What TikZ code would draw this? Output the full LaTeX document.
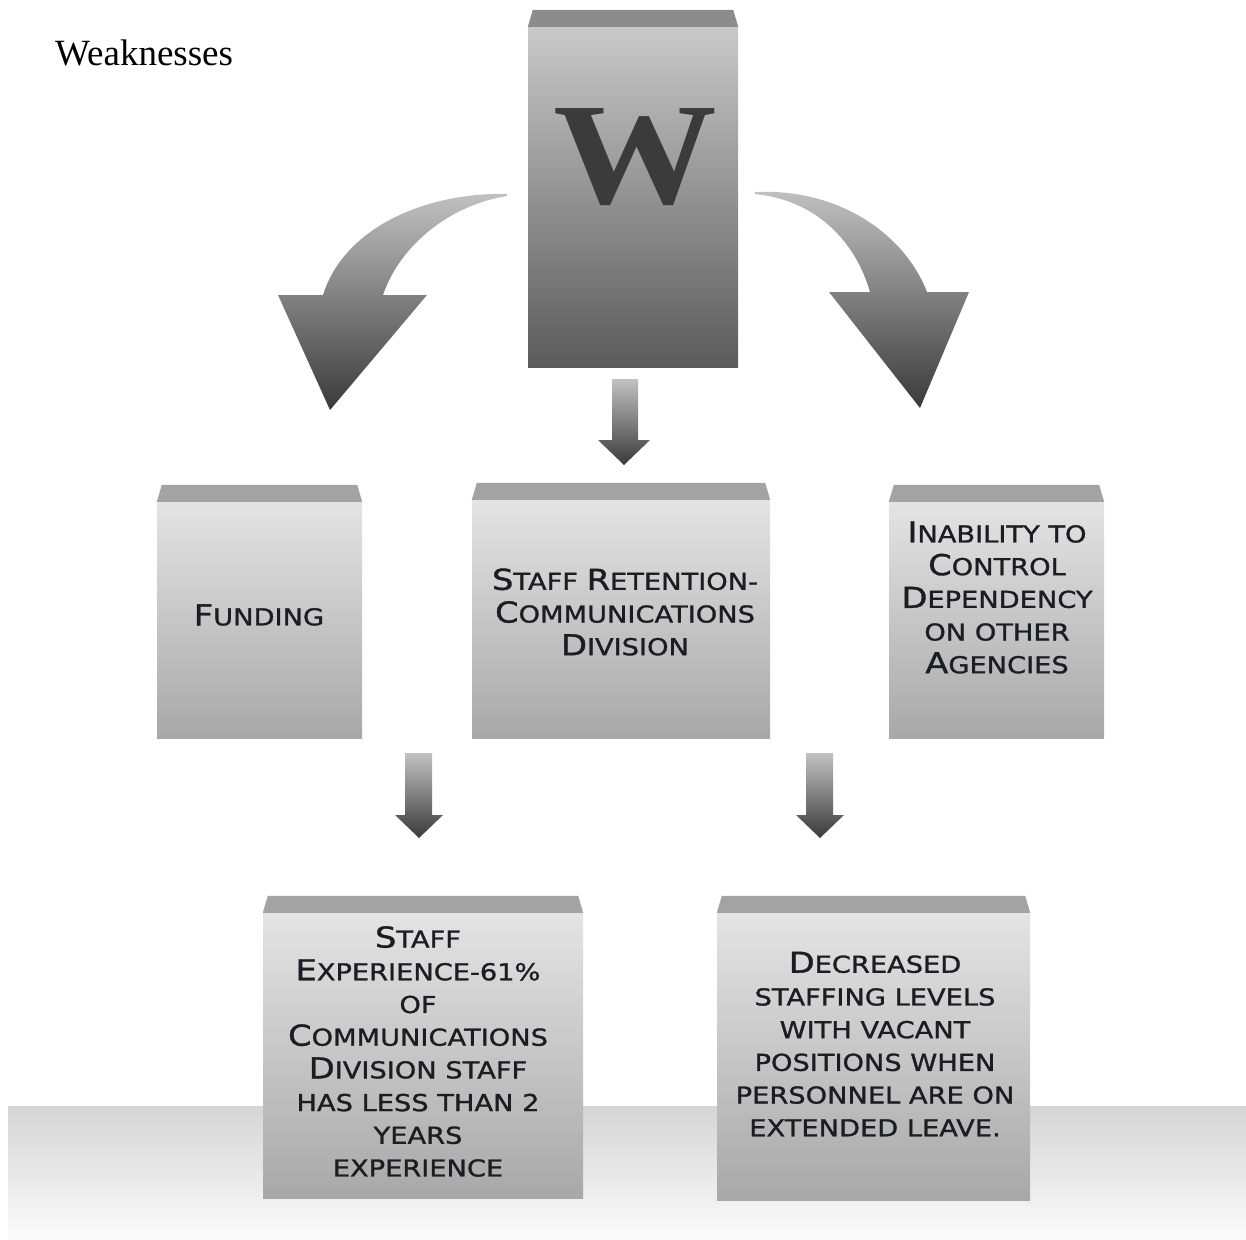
\documentclass[tikz,border=0pt]{standalone}
\usepackage{fontspec}
\setmainfont{Liberation Serif}
\newfontfamily\capsfont{DejaVu Sans}[FakeStretch=1.17,FakeBold=1.2]
\newfontfamily\wfont{Liberation Serif Bold}[FakeStretch=1.13]
\newcommand\Lc[1]{{\fontsize{28.8pt}{32.7pt}\selectfont #1}}
\definecolor{faceTop}{HTML}{E4E4E4}
\definecolor{faceBot}{HTML}{A8A8A8}
\definecolor{wTop}{HTML}{C9C9C9}
\definecolor{wBot}{HTML}{5B5B5B}
\definecolor{bandCol}{HTML}{A3A3A3}
\definecolor{wBand}{HTML}{8C8C8C}
\definecolor{arrTop}{HTML}{C2C2C2}
\definecolor{arrBot}{HTML}{3A3A3A}
\definecolor{floorTop}{HTML}{D5D5D5}
\definecolor{floorBot}{HTML}{FBFBFB}
\definecolor{txtCol}{HTML}{1C1C24}
\definecolor{wLetter}{HTML}{3B3B3B}
\tikzset{
  facebox/.style={draw=none, inner sep=0pt, top color=faceTop, bottom color=faceBot},
  wboxstyle/.style={draw=none, inner sep=0pt, top color=wTop, bottom color=wBot},
  boxtext/.style={align=center, inner sep=0pt, text=txtCol,
     font=\capsfont\fontsize{23.3pt}{32.7pt}\selectfont},
  blockarrow/.style={top color=arrTop, bottom color=arrBot, draw=none},
}
\newcommand\topband[2]{%
  \fill[#2] (#1.north west) -- ([xshift=5pt,yshift=17pt]#1.north west)
    -- ([xshift=-5pt,yshift=17pt]#1.north east) -- (#1.north east) -- cycle;}
\begin{document}
\begin{tikzpicture}[x=1pt,y=-1pt]
\useasboundingbox (0,0) rectangle (1246,1239);
% floor
\shade[top color=floorTop, bottom color=floorBot] (8,1106) rectangle (1246,1239);
% title
\node[anchor=base west, inner sep=0pt, font=\fontsize{37pt}{40pt}\selectfont] (title) at (55,65) {Weaknesses};
% W box
\node[wboxstyle, minimum width=210pt, minimum height=340pt] (wbox) at (633,197) {};
\topband{wbox}{wBand}
\node[anchor=base, inner sep=0pt, text=wLetter, font=\wfont\fontsize{145pt}{150pt}\selectfont] (wletter) at (635,203) {W};
% boxes
\node[facebox, minimum width=205pt, minimum height=236pt] (fund) at (259.5,620) {};
\topband{fund}{bandCol}
\node[facebox, minimum width=298pt, minimum height=238pt] (staff) at (621,619) {};
\topband{staff}{bandCol}
\node[facebox, minimum width=215pt, minimum height=236pt] (inab) at (996.5,620) {};
\topband{inab}{bandCol}
\node[facebox, minimum width=320pt, minimum height=285pt] (exp) at (423,1055.5) {};
\topband{exp}{bandCol}
\node[facebox, minimum width=313pt, minimum height=287pt] (decr) at (873.5,1056.5) {};
\topband{decr}{bandCol}
% texts
\node[boxtext] (fundtxt) at (259,615) {\Lc{F}UNDING};
\node[boxtext] (stafftxt) at (625,612) {\Lc{S}TAFF \Lc{R}ETENTION-\\\Lc{C}OMMUNICATIONS\\\Lc{D}IVISION};
\node[boxtext] (inabtxt) at (997,597.5) {\Lc{I}NABILITY TO\\\Lc{C}ONTROL\\\Lc{D}EPENDENCY\\ON OTHER\\\Lc{A}GENCIES};
\node[boxtext] (exptxt) at (418,1051.5) {\Lc{S}TAFF\\\Lc{E}XPERIENCE-61\%\\OF\\\Lc{C}OMMUNICATIONS\\\Lc{D}IVISION STAFF\\HAS LESS THAN 2\\YEARS\\EXPERIENCE};
\node[boxtext] (decrtxt) at (875,1044) {\Lc{D}ECREASED\\STAFFING LEVELS\\WITH VACANT\\POSITIONS WHEN\\PERSONNEL ARE ON\\EXTENDED LEAVE.};
% curved arrows
\shade[blockarrow] (507,194) .. controls (430,192) and (345,225) .. (323,295)
  -- (278,295) -- (330,410) -- (427,295) -- (383,295)
  .. controls (400,245) and (450,205) .. (507,196) -- cycle;
\shade[blockarrow] (755,192) .. controls (840,188) and (905,235) .. (927,292)
  -- (969,292) -- (920,408) -- (829,292) -- (870,292)
  .. controls (855,240) and (815,200) .. (755,194) -- cycle;
% straight arrows
\shade[blockarrow] (612,379) -- (638,379) -- (638,440) -- (650,440) -- (624,465) -- (598,440) -- (612,440) -- cycle;
\shade[blockarrow] (405,753) -- (432,753) -- (432,815) -- (443,815) -- (419,838) -- (395,815) -- (405,815) -- cycle;
\shade[blockarrow] (806,753) -- (833,753) -- (833,815) -- (844,815) -- (820,838) -- (796,815) -- (806,815) -- cycle;
\end{tikzpicture}
\end{document}
